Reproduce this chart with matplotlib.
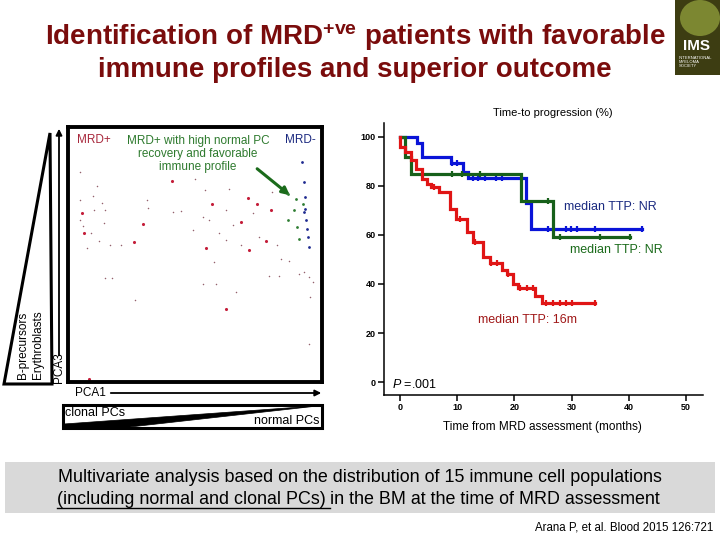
import numpy as np
import matplotlib
matplotlib.use("Agg")
import matplotlib.pyplot as plt
from matplotlib.patches import Polygon, Rectangle, Ellipse

plt.rcParams['font.family'] = ['Liberation Sans', 'DejaVu Sans']
plt.rcParams['mathtext.fontset'] = 'custom'
plt.rcParams['mathtext.rm'] = 'Liberation Sans'
plt.rcParams['mathtext.bf'] = 'Liberation Sans:bold'
plt.rcParams['mathtext.it'] = 'Liberation Sans:italic'

# ---- data: PCA scatter (arbitrary PCA1 / PCA3 units, 0-100) ----
mrdpos_x = [5.6, 6.3, 41.1, 56.6, 71.0, 74.6, 80.1, 68.1, 29.4, 25.8, 54.4, 71.1, 77.9, 62.2, 8.2]
mrdpos_y = [66.3, 58.4, 78.9, 69.7, 72.2, 70.0, 67.4, 62.8, 62.1, 54.9, 52.5, 51.8, 55.3, 28.8, 1.2]

minor_x = [4.9, 11.5, 9.8, 13.2, 4.9, 10.2, 14.7, 4.7, 14.1, 6.0, 8.9, 12.1, 16.4, 21.0, 7.3,
           31.0, 31.6, 41.4, 44.3, 49.9, 54.0, 63.3, 62.2, 53.1, 55.5, 49.2, 64.8, 59.4, 62.2,
           68.1, 80.5, 72.7, 75.3, 82.4, 57.4, 53.1, 58.1, 66.1, 14.7, 17.3, 26.4, 79.2, 83.1,
           83.7, 87.0, 92.8, 94.8, 96.4, 95.4, 94.8, 90.9]
minor_y = [82.2, 77.0, 72.9, 70.3, 71.3, 67.6, 67.4, 63.4, 62.4, 61.1, 58.4, 55.3, 53.8, 53.9, 52.5,
           71.3, 68.4, 66.7, 66.9, 79.5, 75.3, 75.5, 67.6, 64.7, 63.4, 59.7, 61.7, 58.4, 55.5,
           53.6, 74.6, 66.1, 56.8, 53.9, 47.0, 38.4, 38.4, 35.1, 40.8, 40.8, 32.2, 41.7, 41.7,
           48.3, 47.6, 43.0, 41.1, 39.1, 33.2, 15.0, 42.4]

fav_x = [86.7, 89.6, 92.6, 88.9, 86.7, 90.2, 90.9]
fav_y = [73.7, 71.7, 70.0, 67.4, 63.7, 60.8, 56.2]

mrdneg_x = [92.2, 92.8, 93.5, 92.8, 93.8, 94.1, 94.5, 94.8, 93.2]
mrdneg_y = [86.4, 78.6, 72.6, 66.7, 63.4, 60.1, 56.8, 52.9, 68.0]

# ---- data: Kaplan-Meier (months, % progression free) ----
blue_t = [0, 3.0, 3.9, 8.9, 11.0, 11.9, 22.0, 23.0, 42.3]
blue_s = [100, 97.5, 91.8, 89.4, 85.7, 83.4, 73.0, 62.5, 62.5]
blue_cens = [9.1, 9.9, 12.8, 13.6, 14.9, 16.8, 17.9, 25.9, 29.0, 29.9, 31.0, 34.1, 42.3]

green_t = [0, 0.9, 1.9, 21.2, 26.8, 40.2]
green_s = [100, 91.8, 85.0, 74.0, 59.2, 59.2]
green_cens = [9.1, 10.8, 14.0, 25.9, 28.0, 35.0, 40.2]

red_t = [0, 0.05, 0.9, 1.9, 2.8, 3.8, 4.7, 5.5, 6.8, 8.7, 9.8, 11.7, 12.8, 14.5, 15.7,
         17.8, 18.7, 19.8, 20.7, 23.6, 24.8, 34.1]
red_s = [100, 96.0, 94.0, 90.6, 86.8, 82.7, 80.8, 79.7, 77.7, 70.6, 66.5, 61.2, 57.3, 51.1, 48.5,
         45.7, 44.0, 40.0, 38.3, 35.0, 32.2, 32.2]
red_cens = [6.0, 10.5, 13.2, 16.0, 16.9, 18.9, 21.0, 22.2, 23.3, 25.6, 26.8, 28.0, 29.1, 30.0, 34.1]

x_ticks = [0, 10, 20, 30, 40, 50]
y_ticks = [0, 20, 40, 60, 80, 100]

TITLE_RED = '#7a0c0c'


def level_at(times, surv, t):
    idx = np.searchsorted(times, t, side='right') - 1
    return np.asarray(surv)[idx]


fig = plt.figure(figsize=(7.2, 5.4), dpi=100)

# background axes in pixel coordinates
bg = fig.add_axes([0, 0, 1, 1])
bg.set_xlim(0, 720)
bg.set_ylim(540, 0)
bg.axis('off')

# title
bg.text(355, 37, r"Identification of MRD$^{\mathbf{+ve}}$ patients with favorable",
        ha='center', va='center', fontsize=20, fontweight='bold', color=TITLE_RED)
bg.text(355, 70, "immune profiles and superior outcome",
        ha='center', va='center', fontsize=20, fontweight='bold', color=TITLE_RED)

# IMS logo block
bg.add_patch(Rectangle((675, 0), 45, 75, facecolor='#3d3d12', edgecolor='none'))
bg.add_patch(Ellipse((700, 18), 40, 36, facecolor='#8c9a3a', edgecolor='none', alpha=0.8))
bg.text(697, 46, "IMS", ha='center', va='center', fontsize=11, fontweight='bold', color='white')
bg.text(679, 62, "INTERNATIONAL\nMYELOMA\nSOCIETY", ha='left', va='center',
        fontsize=3, color='white', linespacing=1.1)

# left wedge (B-precursors / Erythroblasts)
bg.add_patch(Polygon([(4, 384), (52, 384), (50, 133)], closed=True,
                     facecolor='white', edgecolor='black', lw=2.2))
bg.text(23, 379, "B-precursors", rotation=90, ha='center', va='bottom', fontsize=8.5)
bg.text(38, 379, "Erythroblasts", rotation=90, ha='center', va='bottom', fontsize=8.5)

# PCA3 axis arrow
bg.text(59, 383, "PCA3", rotation=90, ha='center', va='bottom', fontsize=8.5)
bg.annotate('', xy=(59, 126), xytext=(59, 358),
            arrowprops=dict(arrowstyle='-|>', color='black', lw=1.3, mutation_scale=9))

# PCA1 axis arrow
bg.text(75, 393, "PCA1", ha='left', va='center', fontsize=8.5)
bg.annotate('', xy=(324, 393), xytext=(108, 393),
            arrowprops=dict(arrowstyle='-|>', color='black', lw=1.3, mutation_scale=9))

# bottom wedge (clonal PCs -> normal PCs)
bg.add_patch(Rectangle((63, 405), 259, 23, facecolor='white', edgecolor='black', lw=2.2))
bg.add_patch(Polygon([(64, 424), (322, 405.5), (121, 428), (64, 428)], closed=True,
                     facecolor='black', edgecolor='black', lw=0.5))
bg.text(65, 413, "clonal PCs", ha='left', va='center', fontsize=9)
bg.text(320, 421, "normal PCs", ha='right', va='center', fontsize=9)

# group labels in PCA panel
bg.text(77, 140, "MRD+", ha='left', va='center', fontsize=8.5, color='#a8283c')
bg.text(198, 154, "MRD+ with high normal PC\nrecovery and favorable\nimmune profile",
        ha='center', va='center', fontsize=8.5, color='#2e7a2e', linespacing=1.15)
bg.text(300, 140, "MRD-", ha='center', va='center', fontsize=8.5, color='#1c2a80')
bg.annotate('', xy=(292, 197), xytext=(255, 167),
            arrowprops=dict(arrowstyle='-|>', color='#1b6b1b', lw=2.2, mutation_scale=11))

# KM header / labels
bg.text(553, 113, "Time-to progression (%)", ha='center', va='center', fontsize=8)
bg.text(542, 427, "Time from MRD assessment (months)", ha='center', va='center', fontsize=8.5)

# bottom gray box
bg.add_patch(Rectangle((5, 462), 710, 51, facecolor='#d9d9d9', edgecolor='none'))
bg.text(359.5, 478, "Multivariate analysis based on the distribution of 15 immune cell populations",
        ha='center', va='center', fontsize=12.9)
renderer = fig.canvas.get_renderer()
part1 = bg.text(57, 499, "(including normal and clonal PCs)", ha='left', va='center', fontsize=12.9)
bb = part1.get_window_extent(renderer)
x_end = bg.transData.inverted().transform((bb.x1, bb.y0))[0] + 4.5
bg.plot([57, x_end], [508, 508], color='black', lw=1.0)
bg.text(x_end, 499, "in the BM at the time of MRD assessment", ha='left', va='center', fontsize=12.9)

bg.text(713, 528, "Arana P, et al. Blood 2015 126:721", ha='right', va='center', fontsize=8.3)

# ---- PCA scatter panel ----
ax1 = fig.add_axes([68 / 720, 1 - 382 / 540, 254 / 720, 255 / 540])
ax1.set_facecolor('none')
ax1.set_xlim(0, 100)
ax1.set_ylim(0, 100)
ax1.set_xticks([])
ax1.set_yticks([])
for sp in ax1.spines.values():
    sp.set_linewidth(2.8)
ax1.scatter(minor_x, minor_y, s=1.2, color='#7a3a48', linewidths=0, alpha=0.8)
ax1.scatter(mrdpos_x, mrdpos_y, s=5, color='#c41e3a', linewidths=0)
ax1.scatter(fav_x, fav_y, s=4, color='#2e7d32', linewidths=0)
ax1.scatter(mrdneg_x, mrdneg_y, s=4, color='#1e2a90', linewidths=0)

# ---- Kaplan-Meier panel ----
ax2 = fig.add_axes([384 / 720, 1 - 395 / 540, 319 / 720, 272 / 540])
ax2.set_facecolor('none')
ax2.set_xlim(-2.8, 53)
ax2.set_ylim(-5.3, 105.7)
ax2.spines['top'].set_visible(False)
ax2.spines['right'].set_visible(False)
ax2.spines['left'].set_linewidth(1.1)
ax2.spines['bottom'].set_linewidth(1.1)
ax2.set_xticks(x_ticks)
ax2.set_yticks(y_ticks)
ax2.tick_params(axis='both', labelsize=6.5, width=1.1, length=4, pad=2)
for lab in ax2.get_xticklabels() + ax2.get_yticklabels():
    lab.set_fontweight('bold')

curves = [
    (blue_t, blue_s, blue_cens, '#0a14d8'),
    (green_t, green_s, green_cens, '#17601a'),
    (red_t, red_s, red_cens, '#e01515'),
]
for times, surv, cens, col in curves:
    ax2.plot(times, surv, drawstyle='steps-post', color=col, lw=2.3, solid_joinstyle='miter')
    ax2.plot(cens, level_at(times, surv, cens), ls='none', marker='|', ms=5, mew=1.6, color=col)

ax2.text(28.7, 71.4, "median TTP: NR", ha='left', va='center', fontsize=9, color='#1a2a80')
ax2.text(29.7, 53.9, "median TTP: NR", ha='left', va='center', fontsize=9, color='#1b6b1b')
ax2.text(13.6, 25.3, "median TTP: 16m", ha='left', va='center', fontsize=9, color='#a01818')
ax2.text(-1.4, -1.2, "$\\mathit{P}$ =.001", ha='left', va='center', fontsize=9)

fig.savefig('out.png', dpi=100)
